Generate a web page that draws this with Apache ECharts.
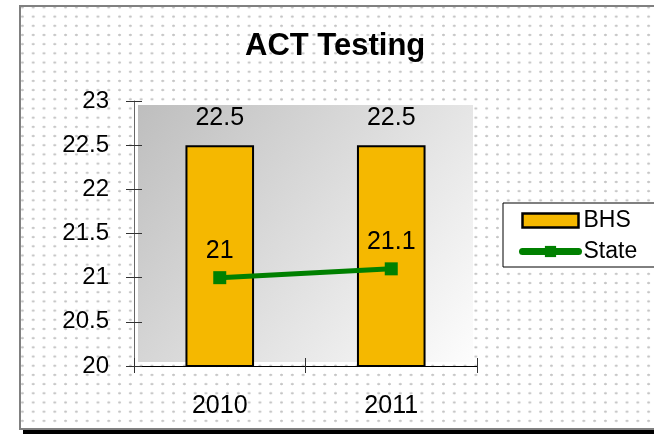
<!DOCTYPE html>
<html>
<head>
<meta charset="utf-8">
<script src="https://cdn.jsdelivr.net/npm/echarts@6/dist/echarts.min.js"></script>
<style>
  html, body { margin: 0; padding: 0; background: #fff; overflow: hidden; }
  #wrap { position: relative; width: 654px; height: 434px; overflow: hidden; }
  /* dotted chart frame, runs off the right edge like the original */
  #frame {
    position: absolute; left: 19px; top: 5px; width: 700px; height: 421px;
    border: 2px solid #808080;
    box-shadow: 4px 4px 0 #000;
    background-color: #fff;
    background-image: radial-gradient(circle, #c4c4c4 1px, rgba(255,255,255,0) 1.5px);
    background-size: 10.8px 9.2px;
    background-position: -4px 5px;
  }
  #main { position: absolute; left: 0; top: 0; width: 654px; height: 434px; }
</style>
</head>
<body>
<div id="wrap">
  <div id="frame"></div>
  <div id="main"></div>
</div>
<script>
// data
var years = ["2010", "2011"];
var bhsScores = [22.5, 22.5];
var stateScores = [21, 21.1];
var yMin = 20, yMax = 23, yStep = 0.5;

var font = "'Liberation Sans', Arial, sans-serif";

var myChart = echarts.init(document.getElementById("main"), null, { renderer: "canvas" });

var option = {
    backgroundColor: "transparent",
    animation: false,
    textStyle: { fontFamily: font },
    title: {
        text: "ACT Testing",
        left: 245,
        top: 31,
        padding: 0,
        textStyle: { fontSize: 31, fontWeight: "bold", color: "#000", fontFamily: font }
    },
    // gradient behind the plot area (a little inset like the original)
    graphic: [{
        type: "rect",
        z: -10,
        shape: { x: 138, y: 105, width: 335, height: 257 },
        style: {
            fill: new echarts.graphic.LinearGradient(0, 0, 1, 1, [
                { offset: 0, color: "#bebebe" },
                { offset: 1, color: "#fdfdfd" }
            ])
        },
        silent: true
    }],
    legend: {
        orient: "vertical",
        left: 503,
        top: 203,
        padding: [6, 60, 4, 16],
        backgroundColor: "#fff",
        borderColor: "#000",
        borderWidth: 1,
        borderRadius: 0,
        itemWidth: 56,
        itemHeight: 14,
        itemGap: 8,
        itemTextGap: 2,
        textStyle: { fontSize: 23, color: "#000", fontFamily: font },
        data: [
            { name: "BHS", icon: "rect", itemStyle: { borderWidth: 2.5 } },
            { name: "State", lineStyle: { width: 7, cap: "round" } }
        ]
    },
    grid: { left: 134, top: 101, right: 177, bottom: 68 },
    xAxis: [{
        type: "category",
        data: years,
        boundaryGap: true,
        axisLine: { lineStyle: { color: "#000", width: 1 } },
        axisTick: { show: true, inside: false, length: 7, lineStyle: { color: "#333" } },
        axisLabel: { fontSize: 25, color: "#000", margin: 28, fontFamily: font }
    }, {
        type: "category",
        data: years,
        position: "bottom",
        boundaryGap: true,
        axisLine: { show: false },
        axisTick: { show: true, inside: true, length: 8, lineStyle: { color: "#333" } },
        axisLabel: { show: false }
    }],
    yAxis: [{
        type: "value",
        min: yMin,
        max: yMax,
        interval: yStep,
        splitLine: { show: false },
        axisLine: { show: true, lineStyle: { color: "#666", width: 1 } },
        axisTick: { show: true, inside: false, length: 8, lineStyle: { color: "#333" } },
        axisLabel: { fontSize: 24, color: "#000", margin: 25, fontFamily: font }
    }, {
        type: "value",
        min: yMin,
        max: yMax,
        interval: yStep,
        position: "left",
        splitLine: { show: false },
        axisLine: { show: false },
        axisTick: { show: true, inside: true, length: 8, lineStyle: { color: "#333" } },
        axisLabel: { show: false }
    }],
    series: [
        {
            name: "BHS",
            type: "bar",
            xAxisIndex: 0,
            yAxisIndex: 0,
            barWidth: "40%",
            itemStyle: { color: "#f5b800", borderColor: "#000", borderWidth: 2 },
            label: {
                show: true,
                position: "top",
                distance: 15,
                fontSize: 25,
                color: "#000",
                fontFamily: font
            },
            data: bhsScores
        },
        {
            name: "State",
            type: "line",
            xAxisIndex: 0,
            yAxisIndex: 0,
            symbol: "rect",
            symbolSize: 13,
            lineStyle: { color: "#008000", width: 5 },
            itemStyle: { color: "#008000" },
            label: {
                show: true,
                position: "top",
                distance: 8,
                fontSize: 25,
                color: "#000",
                fontFamily: font
            },
            data: stateScores
        }
    ]
};

myChart.setOption(option);
</script>
</body>
</html>
